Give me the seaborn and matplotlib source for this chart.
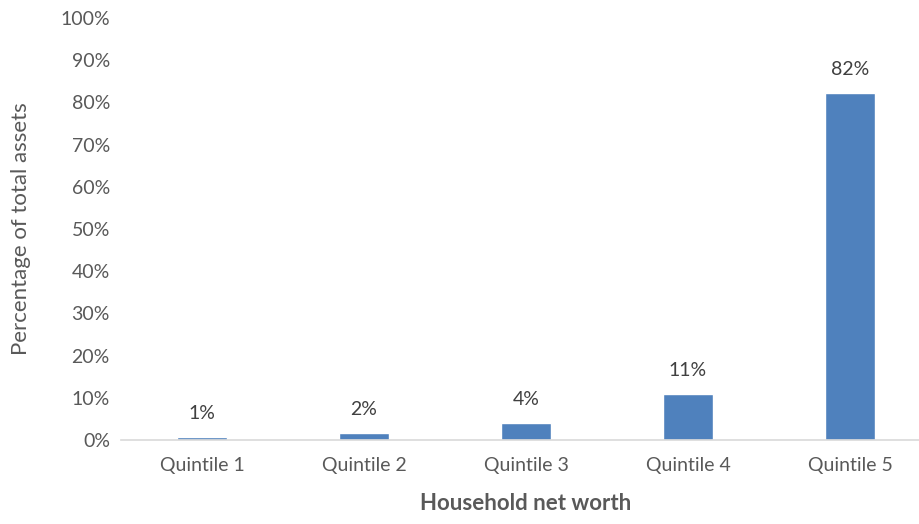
import matplotlib
matplotlib.use('Agg')
import matplotlib.pyplot as plt
import seaborn as sns
import pandas as pd

# data
quintiles = ['Quintile 1', 'Quintile 2', 'Quintile 3', 'Quintile 4', 'Quintile 5']
share = [0.6, 1.7, 4.1, 10.8, 82.3]
labels = ['1%', '2%', '4%', '11%', '82%']

df = pd.DataFrame({'Quintile': quintiles, 'Share': share})

sns.set_style('white')
plt.rcParams['font.family'] = ['Lato', 'DejaVu Sans']
txt = '#595959'

fig = plt.figure(figsize=(9.2, 5.24), dpi=100)
ax = fig.add_axes([121 / 920, 84 / 524, 810 / 920, 422 / 524])

sns.barplot(data=df, x='Quintile', y='Share', color='#4F81BD', width=0.31,
            saturation=1, ax=ax)

for i, (v, lab) in enumerate(zip(share, labels)):
    ax.text(i, v + 3.6, lab, ha='center', va='bottom', fontsize=14, color='#404040')

ax.set_ylim(0, 100)
ax.set_xlim(-0.5, 4.5)
ax.set_yticks(range(0, 101, 10))
ax.set_yticklabels([f'{t}%' for t in range(0, 101, 10)])
ax.tick_params(axis='both', length=0, labelsize=14, colors=txt)
ax.tick_params(axis='x', pad=12)
ax.tick_params(axis='y', pad=8)

for s in ['top', 'right', 'left']:
    ax.spines[s].set_visible(False)
ax.spines['bottom'].set_color('#D9D9D9')
ax.spines['bottom'].set_linewidth(1.2)

ax.set_xlabel('Household net worth', fontsize=16, fontweight='bold', color=txt, labelpad=14)
ax.set_ylabel('Percentage of total assets', fontsize=16, color=txt, labelpad=21)

fig.savefig('out.png', dpi=100)
